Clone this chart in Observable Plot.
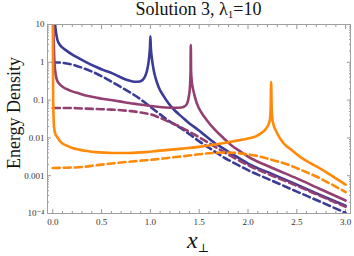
<!DOCTYPE html>
<html>
<head>
<meta charset="utf-8">
<script src="https://cdn.jsdelivr.net/npm/d3@7"></script>
<script src="https://cdn.jsdelivr.net/npm/@observablehq/plot@0.6"></script>
<style>
  html, body { margin: 0; padding: 0; background: #fff; }
  #wrap { position: relative; width: 354px; height: 256px; font-family: "Liberation Serif", "DejaVu Serif", serif; }
  #wrap svg { position: absolute; left: 0; top: 0; }
  .title { position: absolute; left: 47px; width: 303px; top: 0px; text-align: center; font-size: 18px; line-height: 18px; color: #111; white-space: nowrap; }
  .title sub { font-size: 11px; vertical-align: -3px; line-height: 0; }
  .ylab { position: absolute; left: 14px; top: 113px; transform: translate(-50%, -50%) rotate(-90deg); font-size: 18px; color: #111; white-space: nowrap; }
  .xlab { position: absolute; left: 198px; top: 228px; transform: translateX(-50%); font-size: 24px; line-height: 24px; color: #111; white-space: nowrap; }
  .xlab i { font-style: italic; }
  .xlab sub { font-size: 12px; vertical-align: -4px; line-height: 0; }
</style>
</head>
<body>
<div id="wrap">
  <div class="title">Solution 3, λ<sub>1</sub>=10</div>
  <div class="ylab">Energy Density</div>
  <div class="xlab"><i>x</i><sub>⊥</sub></div>
</div>
<script>
// ---- data ----
const blueSolidX = [0.016,0.024,0.035,0.048,0.07,0.1,0.133,0.2,0.269,0.35,0.44,0.52,0.611,0.68,0.747,0.8,0.85,0.89,0.92,0.945,0.965,0.98,0.99,0.996,1.0,1.004,1.012,1.022,1.034,1.055,1.085,1.13,1.187,1.25,1.323,1.4,1.494,1.58,1.665,1.75,1.835,1.92,2.0,2.25,2.5,2.75,3.0];
const blueSolidY = [18,10,5.8,3.9,2.95,2.45,2.1,1.6,1.27,0.98,0.76,0.62,0.51,0.42,0.35,0.32,0.305,0.31,0.34,0.42,0.6,0.95,1.6,2.6,4.9,2.6,1.5,0.95,0.62,0.37,0.22,0.135,0.081,0.053,0.036,0.024,0.016,0.0105,0.0071,0.0052,0.0038,0.0028,0.0021,0.0011,0.00058,0.0003,0.00016];

const blueDashX = [0,0.1,0.2,0.3,0.4,0.5,0.6,0.7,0.8,0.9,1.0,1.1,1.2,1.3,1.4,1.5,1.6,1.7,1.8,1.9,2.0,2.25,2.5,2.75,3.0];
const blueDashY = [1.0,0.97,0.87,0.72,0.57,0.43,0.31,0.22,0.155,0.105,0.066,0.042,0.027,0.019,0.0125,0.0081,0.0055,0.0037,0.0026,0.0019,0.0014,0.00073,0.00038,0.0002,0.000104];

const purpleSolidX = [0.003,0.008,0.015,0.024,0.04,0.064,0.1,0.133,0.2,0.269,0.35,0.44,0.52,0.611,0.7,0.781,0.87,0.952,1.05,1.153,1.25,1.32,1.35,1.376,1.395,1.405,1.411,1.414,1.417,1.425,1.433,1.45,1.477,1.52,1.58,1.665,1.75,1.835,1.92,2.0,2.25,2.5,2.75,3.0];
const purpleSolidY = [20,5,1.3,0.62,0.36,0.275,0.225,0.2,0.17,0.15,0.13,0.117,0.107,0.099,0.091,0.084,0.078,0.073,0.068,0.064,0.063,0.064,0.068,0.081,0.13,0.22,0.5,2.86,0.6,0.3,0.22,0.14,0.081,0.048,0.029,0.016,0.0098,0.0062,0.0044,0.0032,0.0016,0.00085,0.00043,0.00022];

const purpleDashX = [0,0.15,0.3,0.45,0.6,0.7,0.8,0.9,1.0,1.1,1.2,1.3,1.4,1.5,1.6,1.7,1.8,1.9,2.0,2.25,2.5,2.75,3.0];
const purpleDashY = [0.062,0.062,0.06,0.058,0.056,0.054,0.051,0.047,0.042,0.034,0.026,0.02,0.0145,0.0104,0.0073,0.0051,0.0036,0.0026,0.0019,0.001,0.00054,0.000285,0.00015];

const orangeSolidX = [0.0005,0.002,0.004,0.007,0.013,0.025,0.045,0.08,0.133,0.2,0.269,0.35,0.44,0.611,0.781,0.952,1.1,1.323,1.5,1.665,1.8,1.9,2.0,2.08,2.128,2.197,2.223,2.232,2.237,2.242,2.251,2.3,2.367,2.45,2.538,2.62,2.71,2.8,2.88,3.0];
const orangeSolidY = [30,1,0.12,0.045,0.0195,0.013,0.0106,0.0078,0.0064,0.0054,0.0049,0.0045,0.0042,0.004,0.004,0.0042,0.0046,0.0052,0.0058,0.0067,0.0077,0.0086,0.0097,0.011,0.013,0.0195,0.029,0.06,0.3,0.07,0.029,0.013,0.0071,0.0047,0.0031,0.0023,0.0017,0.00125,0.00092,0.00058];

const orangeDashX = [0,0.15,0.3,0.45,0.6,0.75,0.9,1.05,1.2,1.35,1.5,1.65,1.8,1.95,2.1,2.25,2.4,2.55,2.7,2.85,3.0];
const orangeDashY = [0.0016,0.00163,0.0017,0.0019,0.0021,0.0023,0.0025,0.0027,0.003,0.0033,0.0037,0.004,0.0041,0.0038,0.0033,0.0026,0.002,0.0014,0.00095,0.0006,0.00037];

const series = [
  {name: "blue solid",   xs: blueSolidX,   ys: blueSolidY,   color: "#3b3b98", dash: null},
  {name: "blue dashed",  xs: blueDashX,    ys: blueDashY,    color: "#3b3b98", dash: "7,4"},
  {name: "purple solid", xs: purpleSolidX, ys: purpleSolidY, color: "#943f72", dash: null},
  {name: "purple dashed",xs: purpleDashX,  ys: purpleDashY,  color: "#943f72", dash: "7,4"},
  {name: "orange solid", xs: orangeSolidX, ys: orangeSolidY, color: "#ff8a0a", dash: null},
  {name: "orange dashed",xs: orangeDashX,  ys: orangeDashY,  color: "#ff8a0a", dash: "7,4"}
];

const xMajor = [0, 0.5, 1.0, 1.5, 2.0, 2.5, 3.0];
const xLabels = ["0.0","0.5","1.0","1.5","2.0","2.5","3.0"];
const xMinor = d3.range(0, 31).map(i => i / 10).filter(v => !xMajor.some(m => Math.abs(m - v) < 1e-9));
const yMajor = [1e-4, 1e-3, 1e-2, 1e-1, 1, 10];
const yLabels = ["10⁻⁴", "0.001", "0.01", "0.1", "1", "10"];
const yMinor = [];
for (let e = -4; e < 1; e++) for (let k = 2; k <= 9; k++) yMinor.push(k * Math.pow(10, e));

const xLabelOf = d => xLabels[xMajor.findIndex(m => Math.abs(m - d) < 1e-9)];
const yLabelOf = d => yLabels[yMajor.findIndex(m => Math.abs(Math.log10(m) - Math.log10(d)) < 1e-6)];

const font = "Liberation Serif, DejaVu Serif, serif";
const tickColor = "#999";
const lineMarks = series.map(s => Plot.line(s.xs.map((x, i) => ({x, y: s.ys[i]})), {
  x: "x", y: "y", stroke: s.color, strokeWidth: 2.6, strokeDasharray: s.dash,
  curve: "monotone-x", clip: true, strokeLinejoin: "round"
}));

const chart = Plot.plot({
  width: 354, height: 256,
  marginLeft: 47, marginRight: 4, marginTop: 24, marginBottom: 43,
  style: {background: "transparent", fontFamily: font},
  x: {domain: [-0.054, 3.05], label: null},
  y: {type: "log", domain: [1e-4, 10], label: null},
  marks: [
    // inward ticks on all four sides
    Plot.axisX(xMajor, {anchor: "bottom", tickSize: -4, tickFormat: () => "", stroke: tickColor}),
    Plot.axisX(xMinor, {anchor: "bottom", tickSize: -2, tickFormat: () => "", stroke: tickColor}),
    Plot.axisX(xMajor, {anchor: "top", tickSize: -4, tickFormat: () => "", stroke: tickColor}),
    Plot.axisX(xMinor, {anchor: "top", tickSize: -2, tickFormat: () => "", stroke: tickColor}),
    Plot.axisY(yMajor, {anchor: "left", tickSize: -4, tickFormat: () => "", stroke: tickColor}),
    Plot.axisY(yMinor, {anchor: "left", tickSize: -2, tickFormat: () => "", stroke: tickColor}),
    Plot.axisY(yMajor, {anchor: "right", tickSize: -4, tickFormat: () => "", stroke: tickColor}),
    Plot.axisY(yMinor, {anchor: "right", tickSize: -2, tickFormat: () => "", stroke: tickColor}),
    // labels
    Plot.axisX(xMajor, {anchor: "bottom", tickSize: 0, tickPadding: 5, tickFormat: xLabelOf, fontSize: 9, fill: "#333", fontFamily: font}),
    Plot.text(yMajor, {y: d => d, text: yLabelOf, frameAnchor: "left", textAnchor: "end", dx: -3, fontSize: 9, fill: "#333", fontFamily: font}),
    ...lineMarks,
    Plot.frame({stroke: "#a0a0a0", strokeWidth: 1})
  ]
});
document.getElementById("wrap").prepend(chart);
</script>
</body>
</html>
